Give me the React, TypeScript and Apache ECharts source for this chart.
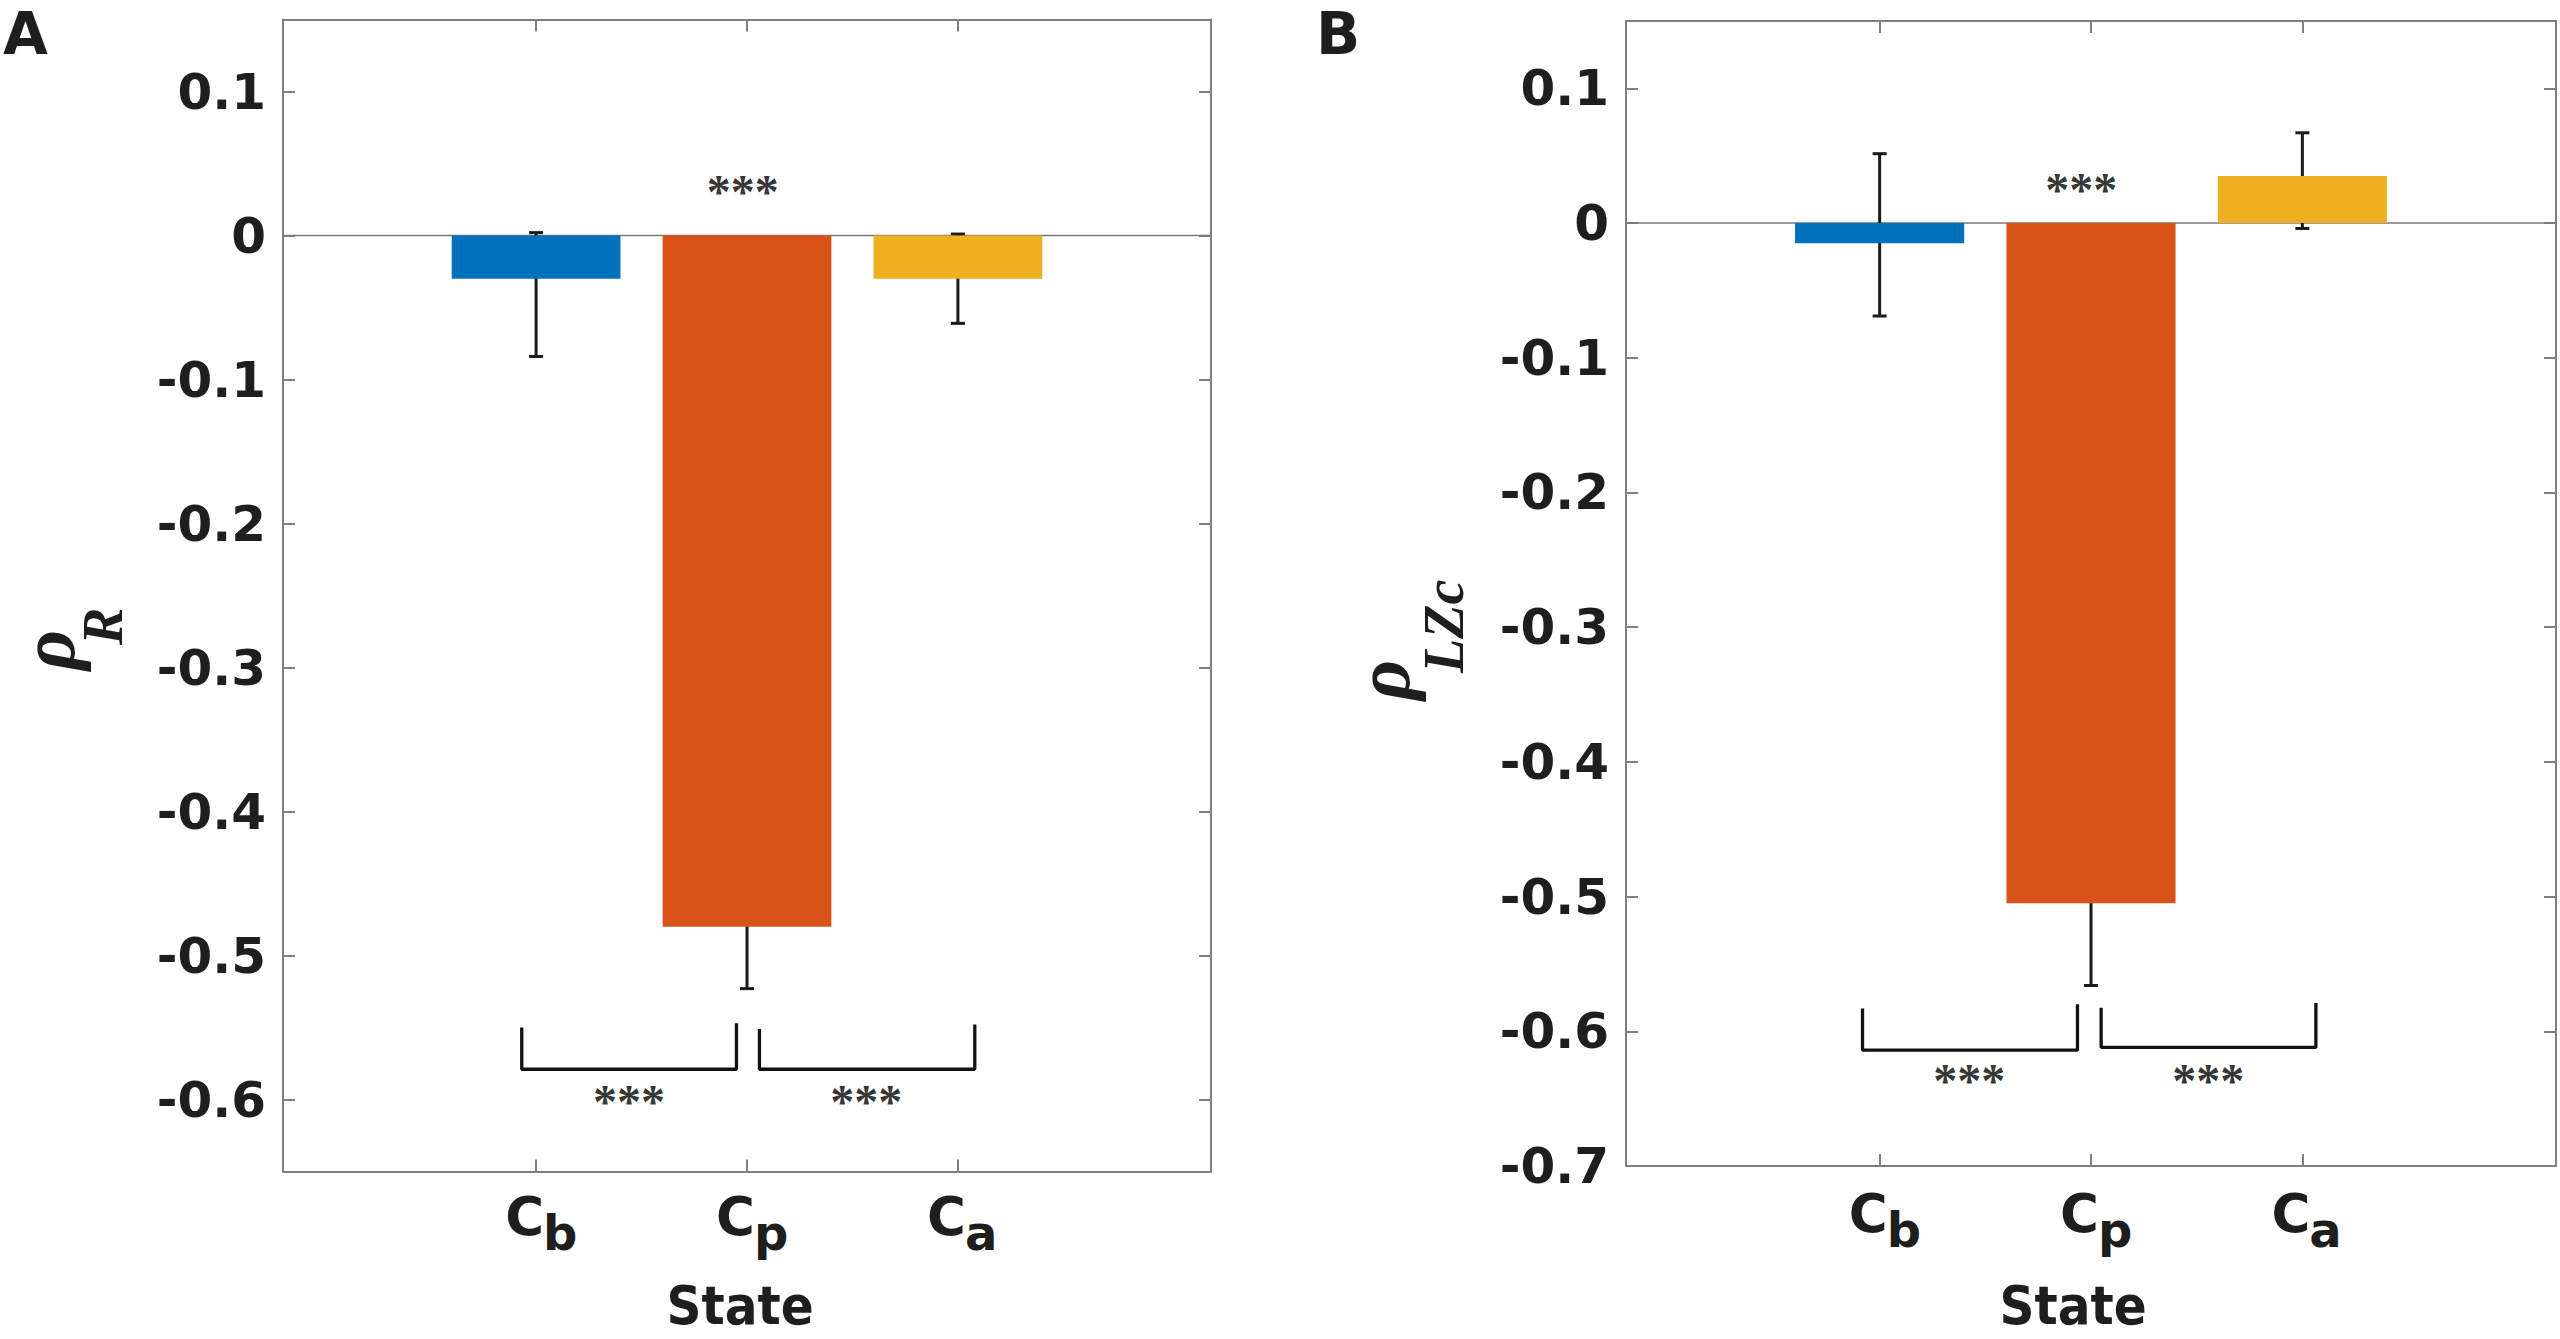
import React, { useEffect, useRef } from "react";
import * as echarts from "echarts";

// ---------- data ----------
const categorySubscripts = ["b", "p", "a"]; // C_b, C_p, C_a
const categoryX = [1, 2, 3];
const barColors = ["#0072BD", "#D95319", "#EDB120"];

const yTicksA = [-0.6, -0.5, -0.4, -0.3, -0.2, -0.1, 0, 0.1];
const yTicksB = [-0.7, -0.6, -0.5, -0.4, -0.3, -0.2, -0.1, 0, 0.1];

// Panel A: rho_R
const meanA = [-0.03, -0.48, -0.03];
const errLowA = [-0.084, -0.523, -0.061];
const errHighA = [0.002, -0.437, 0.001];
// Panel B: rho_LZc
const meanB = [-0.015, -0.505, 0.035];
const errLowB = [-0.069, -0.566, -0.004];
const errHighB = [0.0515, -0.444, 0.067];

// significance marks [x, y]
const starsA = [
  [1.98, 0.035],
  [1.44, -0.597],
  [2.565, -0.597],
];
const starsB = [
  [1.954, 0.0295],
  [1.424, -0.632],
  [2.555, -0.632],
];
// brackets [xLeft, xRight, yTopLeft, yTopRight, yLevel]
const bracketsA = [
  [0.932, 1.95, -0.55, -0.547, -0.579],
  [2.059, 3.08, -0.551, -0.548, -0.579],
];
const bracketsB = [
  [0.919, 1.936, -0.583, -0.58, -0.614],
  [2.048, 3.064, -0.5825, -0.579, -0.612],
];

// ---------- style / layout ----------
const SANS = "'DejaVu Sans', sans-serif";
const SANS_COND = "'DejaVu Sans Condensed', 'DejaVu Sans', sans-serif";
const SERIF = "'Liberation Serif', 'DejaVu Serif', serif";
const TEXT = "#1e1e1e";
const AXIS = "#808080";
const X_MIN = -0.2;
const X_MAX = 4.2;

const panels = [
  {
    grid: { left: 283, top: 19.5, width: 928, height: 1152 },
    yMin: -0.65,
    yMax: 0.15,
    ticks: yTicksA,
    mean: meanA,
    low: errLowA,
    high: errHighA,
    stars: starsA,
    brackets: bracketsA,
    letter: "A",
    letterPos: [3, 34],
    catY: 1216,
    stateX: 740,
    titleOrigin: [74.5, 670],
    titleSub: "R",
    titleSubX: 25,
    titleSubBase: 47.5,
  },
  {
    grid: { left: 1626, top: 21, width: 930, height: 1145 },
    yMin: -0.7,
    yMax: 0.15,
    ticks: yTicksB,
    mean: meanB,
    low: errLowB,
    high: errHighB,
    stars: starsB,
    brackets: bracketsB,
    letter: "B",
    letterPos: [1316, 34],
    catY: 1213,
    stateX: 2073,
    titleOrigin: [1409, 700],
    titleSub: "LZc",
    titleSubX: 27,
    titleSubBase: 54,
  },
];

function fmt(v: number) {
  if (Math.abs(v) < 1e-9) return "0";
  return v.toFixed(1);
}

function buildOption() {
  const grid: any[] = [];
  const xAxis: any[] = [];
  const yAxis: any[] = [];
  const series: any[] = [];

  panels.forEach((p, g) => {
    grid.push({ ...p.grid, containLabel: false });
    ["bottom", "top"].forEach((pos) => {
      xAxis.push({
        type: "value",
        gridIndex: g,
        position: pos,
        min: X_MIN,
        max: X_MAX,
        axisLine: { show: true, onZero: false, lineStyle: { color: AXIS, width: 2 } },
        axisTick: {
          show: true,
          inside: true,
          length: 12,
          customValues: categoryX,
          lineStyle: { color: AXIS, width: 2 },
        },
        axisLabel: { show: false },
        splitLine: { show: false },
      });
    });
    ["left", "right"].forEach((pos) => {
      yAxis.push({
        type: "value",
        gridIndex: g,
        position: pos,
        min: p.yMin,
        max: p.yMax,
        axisLine: { show: true, onZero: false, lineStyle: { color: AXIS, width: 2 } },
        axisTick: {
          show: true,
          inside: true,
          length: 12,
          customValues: p.ticks,
          lineStyle: { color: AXIS, width: 2 },
        },
        axisLabel:
          pos === "left"
            ? {
                show: true,
                customValues: p.ticks,
                formatter: (v: number) => fmt(v),
                fontSize: 50,
                fontWeight: "bold",
                fontFamily: SANS,
                color: TEXT,
                margin: 17,
              }
            : { show: false },
        splitLine: { show: false },
      });
    });

    const xi = g * 2;
    const yi = g * 2;
    const barWidth = (0.8 * p.grid.width) / (X_MAX - X_MIN);

    // zero baseline
    series.push({
      type: "line",
      xAxisIndex: xi,
      yAxisIndex: yi,
      data: [
        [X_MIN, 0],
        [X_MAX, 0],
      ],
      symbol: "none",
      lineStyle: { color: "#7a7a7a", width: 1.6 },
      silent: true,
      z: 1,
    });

    // error bars
    series.push({
      type: "custom",
      xAxisIndex: xi,
      yAxisIndex: yi,
      data: categoryX.map((x, i) => [x, p.low[i], p.high[i]]),
      encode: { x: 0, y: [1, 2] },
      renderItem: (params: any, api: any) => {
        const x = api.value(0);
        const lo = api.value(1);
        const hi = api.value(2);
        const top = api.coord([x, hi]);
        const bot = api.coord([x, lo]);
        const hw = 7;
        const st = { stroke: "#1a1a1a", lineWidth: 3 };
        return {
          type: "group",
          children: [
            { type: "line", shape: { x1: top[0], y1: top[1], x2: bot[0], y2: bot[1] }, style: st },
            { type: "line", shape: { x1: top[0] - hw, y1: top[1], x2: top[0] + hw, y2: top[1] }, style: st },
            { type: "line", shape: { x1: bot[0] - hw, y1: bot[1], x2: bot[0] + hw, y2: bot[1] }, style: st },
          ],
        };
      },
      silent: true,
      z: 2,
    });

    // bars
    series.push({
      type: "bar",
      xAxisIndex: xi,
      yAxisIndex: yi,
      barWidth,
      data: p.mean.map((v, i) => ({
        value: [categoryX[i], v],
        itemStyle: { color: barColors[i] },
      })),
      silent: true,
      z: 3,
    });

    // brackets
    p.brackets.forEach((b) => {
      series.push({
        type: "line",
        xAxisIndex: xi,
        yAxisIndex: yi,
        data: [
          [b[0], b[2]],
          [b[0], b[4]],
          [b[1], b[4]],
          [b[1], b[3]],
        ],
        symbol: "none",
        lineStyle: { color: "#111111", width: 3.3 },
        silent: true,
        z: 4,
      });
    });

    // stars
    series.push({
      type: "scatter",
      xAxisIndex: xi,
      yAxisIndex: yi,
      data: p.stars,
      symbolSize: 1,
      itemStyle: { color: "rgba(0,0,0,0)" },
      label: {
        show: true,
        position: "inside",
        formatter: "***",
        fontSize: 48,
        fontWeight: "bold",
        fontFamily: SERIF,
        color: "#000000",
        offset: [0, 6],
      },
      silent: true,
      z: 5,
    });
  });

  return {
    animation: false,
    backgroundColor: "#ffffff",
    grid,
    xAxis,
    yAxis,
    series,
  };
}

function txt(text: string, x: number, y: number, size: number, align: string, family = SANS) {
  return {
    type: "text",
    x,
    y,
    silent: true,
    style: {
      text,
      fontSize: size,
      fontWeight: "bold",
      fontFamily: family,
      fill: TEXT,
      textAlign: align,
      align,
      textVerticalAlign: "middle",
      verticalAlign: "middle",
    },
  };
}

function buildGraphics(chart: any) {
  const els: any[] = [];
  panels.forEach((p, g) => {
    // panel letter
    els.push(txt(p.letter, p.letterPos[0], p.letterPos[1], 58, "left"));
    // category labels
    categoryX.forEach((x, i) => {
      const px = chart.convertToPixel({ gridIndex: g }, [x, p.yMin]);
      els.push(txt("C", px[0] + 8, p.catY, 53, "right"));
      els.push(txt(categorySubscripts[i], px[0] + 7, p.catY + 17, 48, "left"));
    });
    // x title
    els.push(txt("State", p.stateX, 1305, 54, "center", SANS_COND));
    // y title (rotated)
    const rhoSize = 78;
    const subSize = 56;
    els.push({
      type: "group",
      x: p.titleOrigin[0],
      y: p.titleOrigin[1],
      rotation: Math.PI / 2,
      silent: true,
      children: [
        {
          type: "text",
          x: 0,
          y: -0.34 * rhoSize,
          style: {
            text: "ρ",
            fontSize: rhoSize,
            fontWeight: "bold",
            fontStyle: "italic",
            fontFamily: SERIF,
            fill: TEXT,
            textAlign: "left",
            align: "left",
            textVerticalAlign: "middle",
            verticalAlign: "middle",
          },
        },
        {
          type: "text",
          x: p.titleSubX,
          y: p.titleSubBase - 0.34 * subSize,
          style: {
            text: p.titleSub,
            fontSize: subSize,
            fontWeight: "bold",
            fontStyle: "italic",
            fontFamily: SERIF,
            fill: TEXT,
            textAlign: "left",
            align: "left",
            textVerticalAlign: "middle",
            verticalAlign: "middle",
          },
        },
      ],
    });
  });
  return els;
}

export default function App() {
  const ref = useRef<HTMLDivElement>(null);
  useEffect(() => {
    if (!ref.current) return;
    const chart = echarts.init(ref.current, null, { renderer: "svg" });
    chart.setOption(buildOption() as any);
    chart.setOption({ graphic: buildGraphics(chart) } as any);
    return () => chart.dispose();
  }, []);
  return (
    <div
      ref={ref}
      style={{ position: "fixed", left: 0, top: 0, width: 2560, height: 1339, background: "#fff" }}
    />
  );
}
